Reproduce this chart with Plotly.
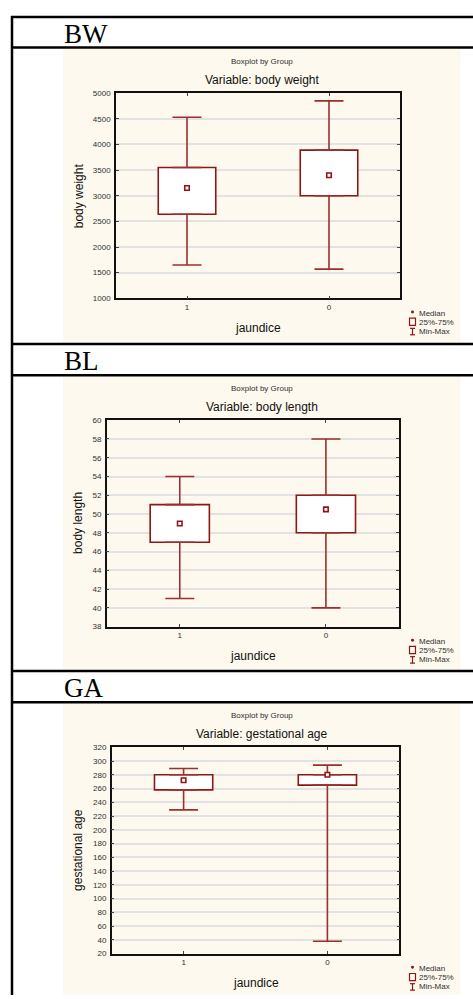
import plotly.graph_objects as go

W, H = 473, 999

categories = ["1", "0"]

# BW panel (body weight)
bw_min = [1650, 1570]
bw_q1 = [2640, 3000]
bw_median = [3150, 3400]
bw_q3 = [3550, 3890]
bw_max = [4530, 4850]
bw_ticks = [1000, 1500, 2000, 2500, 3000, 3500, 4000, 4500, 5000]

# BL panel (body length)
bl_min = [41, 40]
bl_q1 = [47, 48]
bl_median = [49, 50.5]
bl_q3 = [51, 52]
bl_max = [54, 58]
bl_ticks = [38, 40, 42, 44, 46, 48, 50, 52, 54, 56, 58, 60]

# GA panel (gestational age)
ga_min = [229, 38]
ga_q1 = [258, 265]
ga_median = [272, 280]
ga_q3 = [280, 280]
ga_max = [289, 294]
ga_ticks = [20, 40, 60, 80, 100, 120, 140, 160, 180, 200, 220, 240, 260, 280, 300, 320]

headers = ["BW", "BL", "GA"]
variables = ["body weight", "body length", "gestational age"]
group_title = "Boxplot by Group"
x_title = "jaundice"
legend_labels = ["Median", "25%-75%", "Min-Max"]

RED = "#8e1616"
WHISK = "#9c2f2f"
CREAM = "#fdf9ee"
TXT = "#303030"
SANS = "Liberation Sans, Arial, sans-serif"
SERIF = "Liberation Serif, Times New Roman, serif"


def px(x):
    return x / W


def py(y):
    return 1 - y / H


panels = [
    dict(header=headers[0], var=variables[0], mn=bw_min, q1=bw_q1, med=bw_median, q3=bw_q3, mx=bw_max,
         ticks=bw_ticks, plot=(116, 400, 90, 297), head_top=13, head_line=44, cream_bottom=341.5),
    dict(header=headers[1], var=variables[1], mn=bl_min, q1=bl_q1, med=bl_median, q3=bl_q3, mx=bl_max,
         ticks=bl_ticks, plot=(106.7, 399, 420, 628.3), head_top=343, head_line=374.5, cream_bottom=671.5),
    dict(header=headers[2], var=variables[2], mn=ga_min, q1=ga_q1, med=ga_median, q3=ga_q3, mx=ga_max,
         ticks=ga_ticks, plot=(111.7, 399.3, 750, 958.3), head_top=673, head_line=704.5, cream_bottom=1000),
]

fig = go.Figure()
shapes = []
annotations = []

# table vertical border
shapes.append(dict(type="line", xref="paper", yref="paper", x0=px(12), x1=px(12), y0=py(12), y1=py(1000),
                   line=dict(color="black", width=2.5), layer="above"))

for i, p in enumerate(panels):
    n = "" if i == 0 else str(i + 1)
    xa, ya = "x" + n, "y" + n
    x0, x1, y0, y1 = p["plot"]

    # cream panel background
    shapes.append(dict(type="rect", xref="paper", yref="paper", x0=px(63), x1=px(460.5),
                       y0=py(p["head_line"] + 1.2), y1=py(p["cream_bottom"]),
                       fillcolor=CREAM, line=dict(width=0), layer="below"))
    # table lines
    for yy in (p["head_top"], p["head_line"]):
        shapes.append(dict(type="line", xref="paper", yref="paper", x0=px(11), x1=1.01, y0=py(yy), y1=py(yy),
                           line=dict(color="black", width=2.5), layer="above"))
    # header text
    annotations.append(dict(text=p["header"], xref="paper", yref="paper", x=px(62), y=py(p["head_top"] + 17.5),
                            xanchor="left", yanchor="middle", showarrow=False,
                            font=dict(family=SERIF, size=27, color="black")))
    # titles
    cx = px(262)
    annotations.append(dict(text=group_title, xref="paper", yref="paper", x=cx, y=py(y0 - 31.8),
                            xanchor="center", yanchor="middle", showarrow=False,
                            font=dict(family=SANS, size=8, color=TXT)))
    annotations.append(dict(text="Variable: " + p["var"], xref="paper", yref="paper", x=cx, y=py(y0 - 13.5),
                            xanchor="center", yanchor="middle", showarrow=False,
                            font=dict(family=SANS, size=12, color="#111")))
    # axis titles
    annotations.append(dict(text=x_title, xref="paper", yref="paper", x=px((x0 + x1) / 2), y=py(y1 + 30),
                            xanchor="center", yanchor="middle", showarrow=False,
                            font=dict(family=SANS, size=12, color="#111")))
    annotations.append(dict(text=p["var"], xref="paper", yref="paper", x=px(78.5), y=py((y0 + y1) / 2),
                            xanchor="center", yanchor="middle", showarrow=False, textangle=-90,
                            font=dict(family=SANS, size=12, color="#111")))
    # legend
    ly = [y1 + 15, y1 + 24.3, y1 + 33.3]
    for lab, yy in zip(legend_labels, ly):
        annotations.append(dict(text=lab, xref="paper", yref="paper", x=px(416.5), y=py(yy),
                                xanchor="left", yanchor="middle", showarrow=False,
                                font=dict(family=SANS, size=8, color=TXT)))
    shapes.append(dict(type="circle", xref="paper", yref="paper", x0=px(411), x1=px(414),
                       y0=py(ly[0] - 2.8), y1=py(ly[0] + 0.2), fillcolor=RED, line=dict(width=0)))
    shapes.append(dict(type="rect", xref="paper", yref="paper", x0=px(409.5), x1=px(415.5),
                       y0=py(ly[1] - 4.3), y1=py(ly[1] + 3.0), line=dict(color=RED, width=1.2)))
    shapes.append(dict(type="line", xref="paper", yref="paper", x0=px(412.5), x1=px(412.5),
                       y0=py(ly[2] - 3.0), y1=py(ly[2] + 3.5), line=dict(color=RED, width=1.2)))
    for yy in (ly[2] - 3.0, ly[2] + 3.5):
        shapes.append(dict(type="line", xref="paper", yref="paper", x0=px(410), x1=px(415),
                           y0=py(yy), y1=py(yy), line=dict(color=RED, width=1.2)))

    # box (25%-75%)
    fig.add_trace(go.Bar(x=categories, base=p["q1"], y=[a - b for a, b in zip(p["q3"], p["q1"])],
                         width=0.405, marker=dict(color="white", line=dict(color=RED, width=1.6)),
                         xaxis=xa, yaxis=ya, showlegend=False, hoverinfo="skip"))
    # whiskers (Min-Max)
    fig.add_trace(go.Scatter(
        x=categories + categories, y=p["q3"] + p["q1"], mode="markers",
        marker=dict(size=1, opacity=0),
        error_y=dict(type="data", symmetric=False,
                     array=[m - q for m, q in zip(p["mx"], p["q3"])] + [0, 0],
                     arrayminus=[0, 0] + [q - m for q, m in zip(p["q1"], p["mn"])],
                     color=WHISK, thickness=1.6, width=14.5),
        xaxis=xa, yaxis=ya, showlegend=False, hoverinfo="skip"))
    # median
    fig.add_trace(go.Scatter(x=categories, y=p["med"], mode="markers",
                             marker=dict(symbol="square", size=4.5, color="white", line=dict(color=RED, width=1.6)),
                             xaxis=xa, yaxis=ya, showlegend=False, hoverinfo="skip"))

    tk = p["ticks"]
    fig.layout["xaxis" + n] = dict(domain=[px(x0), px(x1)], anchor=ya, type="category",
                                   categoryorder="array", categoryarray=categories, range=[-0.5, 1.5],
                                   showline=True, linecolor="#111", linewidth=1.5, mirror="ticks",
                                   ticks="inside", ticklen=3, tickcolor="#444", showgrid=False,
                                   tickfont=dict(family=SANS, size=8, color=TXT), ticklabelstandoff=0)
    fig.layout["yaxis" + n] = dict(domain=[py(y1), py(y0)], anchor=xa, range=[tk[0], tk[-1]],
                                   tickvals=tk, ticktext=[str(t) for t in tk],
                                   showline=True, linecolor="#111", linewidth=1.5, mirror="ticks",
                                   ticks="inside", ticklen=3, tickcolor="#444",
                                   showgrid=True, gridcolor="#e2e2e2", gridwidth=1.8, zeroline=False,
                                   tickfont=dict(family=SANS, size=8, color=TXT), ticklabelstandoff=2)

fig.update_layout(width=W, height=H, margin=dict(l=0, r=0, t=0, b=0), autosize=False,
                  paper_bgcolor="white", plot_bgcolor="white", showlegend=False,
                  shapes=shapes, annotations=annotations, barmode="overlay")

fig.write_html("out.html", config={"displayModeBar": False},
               post_script="document.body.style.margin='0';")
